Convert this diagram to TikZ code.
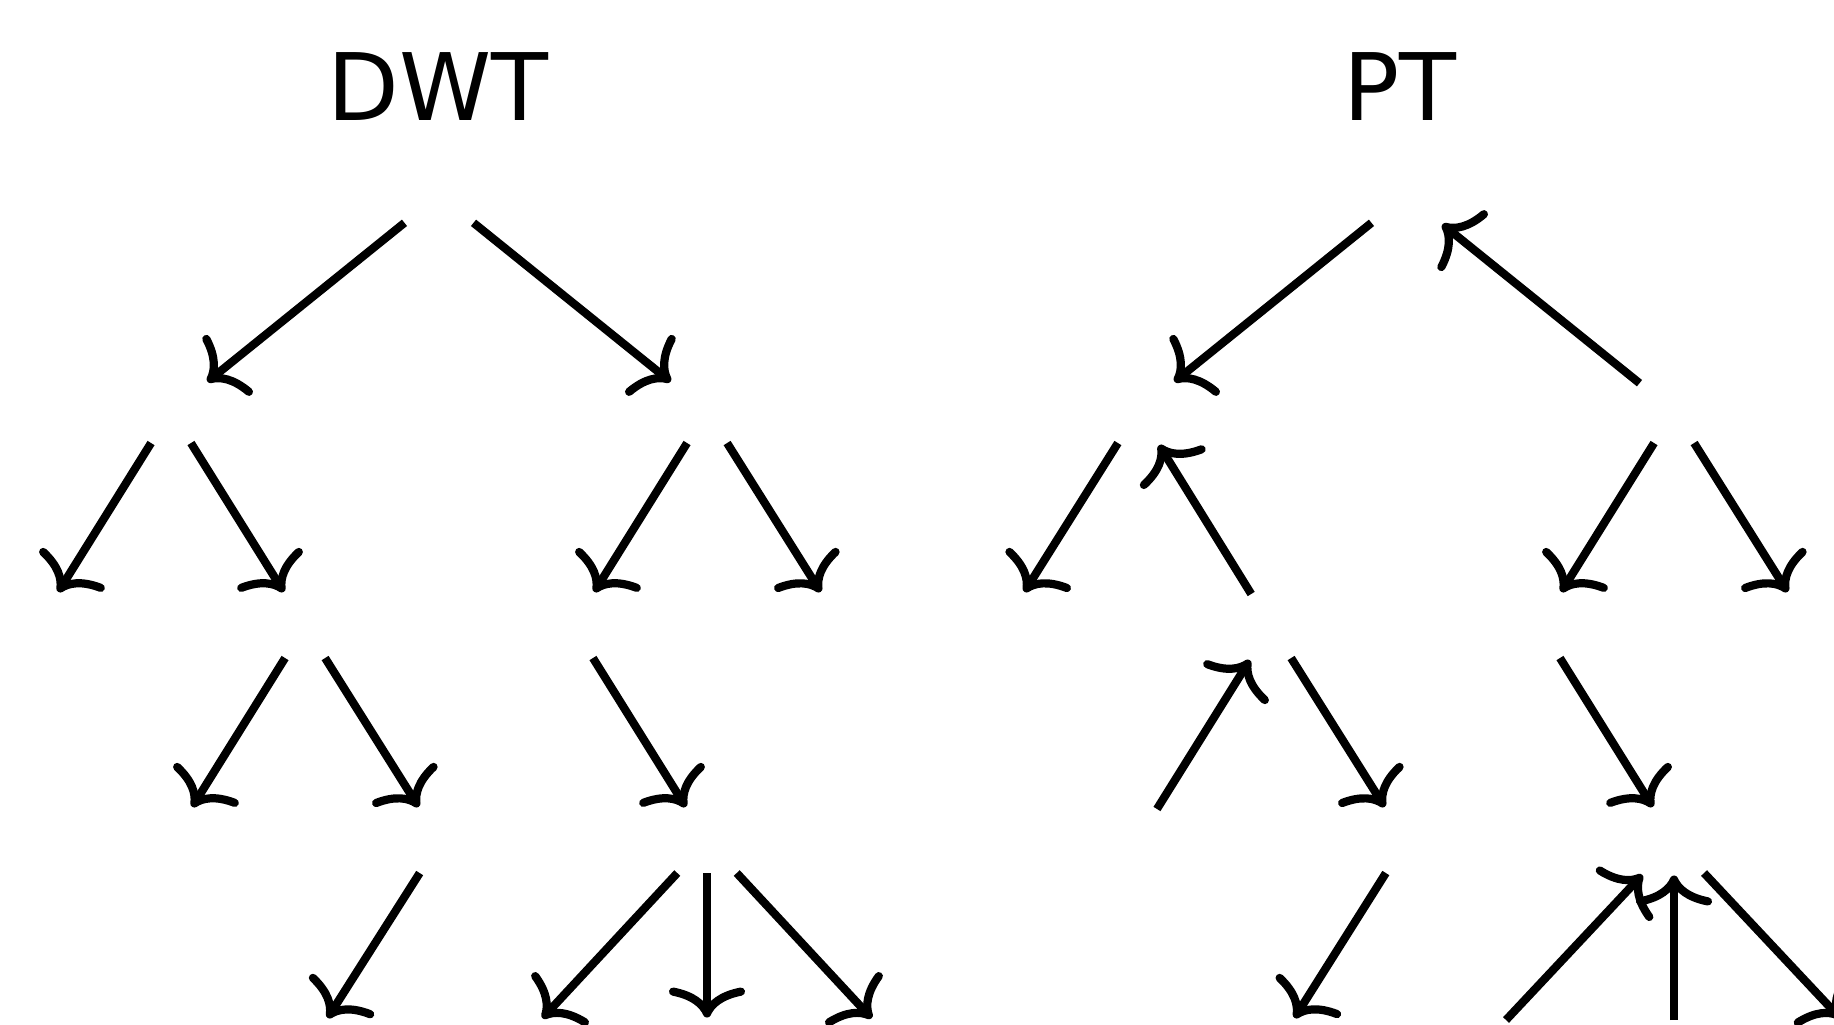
\documentclass[tikz,border=0pt]{standalone}
\usepackage{fontspec}
\setmainfont{DejaVu Sans}
\usetikzlibrary{arrows.meta}
\begin{document}
\begin{tikzpicture}[x=0.01cm,y=-0.01cm,
  slot/.style={rectangle, minimum width=0.69cm, minimum height=0.64cm, inner sep=0pt, outer sep=0pt},
  link/.style={line width=0.082cm, -{Computer Modern Rightarrow[length=0.30cm,width=0.76cm]}, shorten >=0.7pt},
  title/.style={anchor=base, inner sep=0pt, font=\fontsize{26.5}{30}\selectfont}]
\useasboundingbox (0,0) rectangle (1834,1024);
\fill[white] (0,0) rectangle (1834,1024);
\clip (0,0) rectangle (1834,1024);

% headings
\node[title] (tdwt) at (438,120.5) {DWT};
\node[title] (tpt) at (1400,120.5) {PT};

% DWT tree slots
\node[slot] (dR)   at (439,195) {};
\node[slot] (dA)   at (171,411) {};
\node[slot] (dB)   at (707,411) {};
\node[slot] (dA1)  at (37,626) {};
\node[slot] (dA2)  at (305,626) {};
\node[slot] (dB1)  at (573,626) {};
\node[slot] (dB2)  at (842,626) {};
\node[slot] (dA2a) at (171,841) {};
\node[slot] (dA2b) at (440,841) {};
\node[slot] (dC)   at (707,841) {};
\node[slot] (dA2bc) at (306,1052) {};
\node[slot] (dC1)  at (511,1052) {};
\node[slot] (dC2)  at (707,1052) {};
\node[slot] (dC3)  at (903,1052) {};

% PT tree slots
\node[slot] (pR)   at (1406,195) {};
\node[slot] (pL)   at (1138,411) {};
\node[slot] (pRt)  at (1674,411) {};
\node[slot] (pL1)  at (1003,626) {};
\node[slot] (pL2)  at (1271,626) {};
\node[slot] (pR1)  at (1540,626) {};
\node[slot] (pR2)  at (1809,626) {};
\node[slot] (pL2a) at (1137,841) {};
\node[slot] (pL2b) at (1406,841) {};
\node[slot] (pR1c) at (1674,841) {};
\node[slot] (pL2bc) at (1273,1052) {};
\node[slot] (pC1)  at (1476,1052) {};
\node[slot] (pC2)  at (1674,1052) {};
\node[slot] (pC3)  at (1872,1052) {};

% DWT arrows (all downward)
\draw[link] (dR) -- (dA);
\draw[link] (dR) -- (dB);
\draw[link] (dA) -- (dA1);
\draw[link] (dA) -- (dA2);
\draw[link] (dB) -- (dB1);
\draw[link] (dB) -- (dB2);
\draw[link] (dA2) -- (dA2a);
\draw[link] (dA2) -- (dA2b);
\draw[link] (dB1) -- (dC);
\draw[link] (dA2b) -- (dA2bc);
\draw[link] (dC) -- (dC1);
\draw[link] (dC) -- (dC2);
\draw[link] (dC) -- (dC3);

% PT arrows (mixed directions)
\draw[link] (pR) -- (pL);
\draw[link] (pRt) -- (pR);
\draw[link] (pL) -- (pL1);
\draw[link] (pL2) -- (pL);
\draw[link] (pRt) -- (pR1);
\draw[link] (pRt) -- (pR2);
\draw[link] (pL2a) -- (pL2);
\draw[link] (pL2) -- (pL2b);
\draw[link] (pR1) -- (pR1c);
\draw[link] (pL2b) -- (pL2bc);
\draw[link] (pC1) -- (pR1c);
\draw[link] (pC2) -- (pR1c);
\draw[link] (pR1c) -- (pC3);
\end{tikzpicture}
\end{document}
